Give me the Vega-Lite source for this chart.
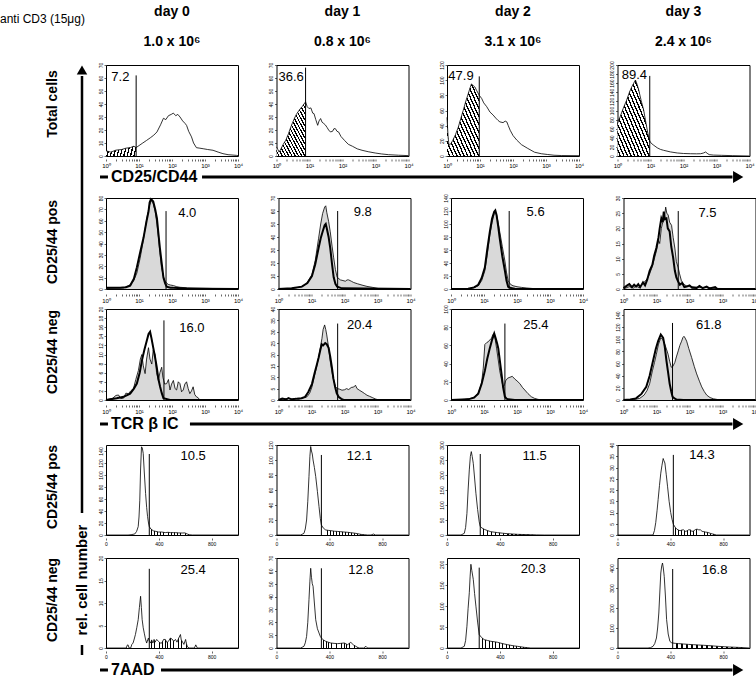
{
"$schema":"https://vega.github.io/schema/vega-lite/v6.json",
"background":"white",
"padding":{"left":0,"top":5,"right":0,"bottom":0},
"config":{"view":{"stroke":"black","strokeWidth":1},"font":"Liberation Sans","axis":{"domain":false,"grid":false,"tickSize":2,"tickColor":"black","tickWidth":0.6,"labelColor":"black","labelFontSize":6,"labelPadding":1,"labelFont":"Liberation Sans","labelOverlap":false,"labelSeparation":0}},
"datasets":{"h":[
{"r":1,"d":0,"k":"m","x":1,"y":4,"h":1},{"r":1,"d":0,"k":"m","x":1.4,"y":3,"h":1},{"r":1,"d":0,"k":"m","x":2,"y":4.5,"h":1},{"r":1,"d":0,"k":"m","x":3,"y":5,"h":1},{"r":1,"d":0,"k":"m","x":4,"y":6,"h":1},{"r":1,"d":0,"k":"m","x":5.5,"y":6.5,"h":1},{"r":1,"d":0,"k":"m","x":7,"y":7.5,"h":1},{"r":1,"d":0,"k":"m","x":8.2,"y":6.5,"h":1},
{"r":1,"d":0,"k":"m","x":10,"y":8},{"r":1,"d":0,"k":"m","x":13,"y":10},{"r":1,"d":0,"k":"m","x":17,"y":12},{"r":1,"d":0,"k":"m","x":22,"y":14},{"r":1,"d":0,"k":"m","x":28,"y":16},{"r":1,"d":0,"k":"m","x":35,"y":18.5},{"r":1,"d":0,"k":"m","x":45,"y":24},{"r":1,"d":0,"k":"m","x":55,"y":29},{"r":1,"d":0,"k":"m","x":65,"y":28},{"r":1,"d":0,"k":"m","x":78,"y":31},{"r":1,"d":0,"k":"m","x":95,"y":32},{"r":1,"d":0,"k":"m","x":110,"y":33},{"r":1,"d":0,"k":"m","x":130,"y":31},{"r":1,"d":0,"k":"m","x":150,"y":32},{"r":1,"d":0,"k":"m","x":175,"y":30},{"r":1,"d":0,"k":"m","x":210,"y":27},{"r":1,"d":0,"k":"m","x":250,"y":25},{"r":1,"d":0,"k":"m","x":277,"y":23.5},{"r":1,"d":0,"k":"m","x":320,"y":19},{"r":1,"d":0,"k":"m","x":390,"y":14.7},{"r":1,"d":0,"k":"m","x":450,"y":10},{"r":1,"d":0,"k":"m","x":550,"y":6.4},{"r":1,"d":0,"k":"m","x":700,"y":6},{"r":1,"d":0,"k":"m","x":880,"y":5.6},{"r":1,"d":0,"k":"m","x":1200,"y":5},{"r":1,"d":0,"k":"m","x":1750,"y":4.4},{"r":1,"d":0,"k":"m","x":2500,"y":3},{"r":1,"d":0,"k":"m","x":3500,"y":1.8},{"r":1,"d":0,"k":"m","x":5000,"y":1},{"r":1,"d":0,"k":"m","x":8900,"y":0.5},{"r":1,"d":0,"k":"m","x":10000,"y":0.3},
{"r":1,"d":0,"k":"q","x":8.2,"y":62},{"r":1,"d":0,"k":"l","x":1.45,"y":61,"t":"7.2"},{"r":1,"d":0,"k":"z","y":70},
{"r":1,"d":1,"k":"m","x":1,"y":7,"h":1},{"r":1,"d":1,"k":"m","x":1.1,"y":5,"h":1},{"r":1,"d":1,"k":"m","x":1.2,"y":3,"h":1},{"r":1,"d":1,"k":"m","x":1.4,"y":6,"h":1},{"r":1,"d":1,"k":"m","x":1.6,"y":9,"h":1},{"r":1,"d":1,"k":"m","x":1.9,"y":12,"h":1},{"r":1,"d":1,"k":"m","x":2.3,"y":17,"h":1},{"r":1,"d":1,"k":"m","x":2.6,"y":21,"h":1},{"r":1,"d":1,"k":"m","x":3,"y":25,"h":1},{"r":1,"d":1,"k":"m","x":3.5,"y":29,"h":1},{"r":1,"d":1,"k":"m","x":4,"y":32,"h":1},{"r":1,"d":1,"k":"m","x":4.8,"y":35,"h":1},{"r":1,"d":1,"k":"m","x":5.5,"y":37,"h":1},{"r":1,"d":1,"k":"m","x":6,"y":38,"h":1},{"r":1,"d":1,"k":"m","x":6.8,"y":40,"h":1},{"r":1,"d":1,"k":"m","x":7.6,"y":41.6,"h":1},
{"r":1,"d":1,"k":"m","x":8.5,"y":38},{"r":1,"d":1,"k":"m","x":9.6,"y":36.5},{"r":1,"d":1,"k":"m","x":11,"y":37},{"r":1,"d":1,"k":"m","x":12.5,"y":33},{"r":1,"d":1,"k":"m","x":13.7,"y":32.6},{"r":1,"d":1,"k":"m","x":15.5,"y":28},{"r":1,"d":1,"k":"m","x":17.7,"y":23.6},{"r":1,"d":1,"k":"m","x":19.5,"y":27},{"r":1,"d":1,"k":"m","x":21.7,"y":28.8},{"r":1,"d":1,"k":"m","x":24,"y":26},{"r":1,"d":1,"k":"m","x":27,"y":25},{"r":1,"d":1,"k":"m","x":30,"y":24},{"r":1,"d":1,"k":"m","x":34,"y":22},{"r":1,"d":1,"k":"m","x":38,"y":20},{"r":1,"d":1,"k":"m","x":43,"y":18.5},{"r":1,"d":1,"k":"m","x":50,"y":19},{"r":1,"d":1,"k":"m","x":55,"y":21},{"r":1,"d":1,"k":"m","x":61,"y":21},{"r":1,"d":1,"k":"m","x":68,"y":19},{"r":1,"d":1,"k":"m","x":76,"y":18.5},{"r":1,"d":1,"k":"m","x":90,"y":15},{"r":1,"d":1,"k":"m","x":115,"y":12},{"r":1,"d":1,"k":"m","x":150,"y":9},{"r":1,"d":1,"k":"m","x":200,"y":7.5},{"r":1,"d":1,"k":"m","x":280,"y":5.5},{"r":1,"d":1,"k":"m","x":390,"y":4.4},{"r":1,"d":1,"k":"m","x":600,"y":3.3},{"r":1,"d":1,"k":"m","x":980,"y":2.3},{"r":1,"d":1,"k":"m","x":1500,"y":1.6},{"r":1,"d":1,"k":"m","x":2500,"y":1},{"r":1,"d":1,"k":"m","x":5000,"y":0.6},{"r":1,"d":1,"k":"m","x":10000,"y":0.3},
{"r":1,"d":1,"k":"q","x":7.6,"y":68},{"r":1,"d":1,"k":"l","x":1.15,"y":61,"t":"36.6"},{"r":1,"d":1,"k":"z","y":70},
{"r":1,"d":2,"k":"m","x":1,"y":51,"h":1},{"r":1,"d":2,"k":"m","x":1.08,"y":25,"h":1},{"r":1,"d":2,"k":"m","x":1.15,"y":14,"h":1},{"r":1,"d":2,"k":"m","x":1.3,"y":16,"h":1},{"r":1,"d":2,"k":"m","x":1.5,"y":20.7,"h":1},{"r":1,"d":2,"k":"m","x":1.8,"y":28,"h":1},{"r":1,"d":2,"k":"m","x":2.2,"y":38,"h":1},{"r":1,"d":2,"k":"m","x":2.6,"y":49,"h":1},{"r":1,"d":2,"k":"m","x":3.1,"y":60,"h":1},{"r":1,"d":2,"k":"m","x":3.7,"y":72,"h":1},{"r":1,"d":2,"k":"m","x":4.4,"y":82,"h":1},{"r":1,"d":2,"k":"m","x":5,"y":90,"h":1},{"r":1,"d":2,"k":"m","x":5.5,"y":95,"h":1},{"r":1,"d":2,"k":"m","x":6.2,"y":93,"h":1},{"r":1,"d":2,"k":"m","x":7,"y":91,"h":1},{"r":1,"d":2,"k":"m","x":8,"y":86,"h":1},{"r":1,"d":2,"k":"m","x":9.5,"y":80,"h":1},
{"r":1,"d":2,"k":"m","x":11.2,"y":76},{"r":1,"d":2,"k":"m","x":13,"y":70},{"r":1,"d":2,"k":"m","x":16,"y":65},{"r":1,"d":2,"k":"m","x":20,"y":58},{"r":1,"d":2,"k":"m","x":25,"y":54},{"r":1,"d":2,"k":"m","x":30,"y":50},{"r":1,"d":2,"k":"m","x":35,"y":47},{"r":1,"d":2,"k":"m","x":40,"y":45},{"r":1,"d":2,"k":"m","x":50,"y":44},{"r":1,"d":2,"k":"m","x":58,"y":46},{"r":1,"d":2,"k":"m","x":65,"y":45},{"r":1,"d":2,"k":"m","x":72,"y":40},{"r":1,"d":2,"k":"m","x":82,"y":34},{"r":1,"d":2,"k":"m","x":100,"y":27},{"r":1,"d":2,"k":"m","x":130,"y":21},{"r":1,"d":2,"k":"m","x":180,"y":15},{"r":1,"d":2,"k":"m","x":280,"y":10},{"r":1,"d":2,"k":"m","x":450,"y":5},{"r":1,"d":2,"k":"m","x":720,"y":3},{"r":1,"d":2,"k":"m","x":1100,"y":2},{"r":1,"d":2,"k":"m","x":1750,"y":1},{"r":1,"d":2,"k":"m","x":3000,"y":0.6},{"r":1,"d":2,"k":"m","x":10000,"y":0.4},
{"r":1,"d":2,"k":"q","x":9.5,"y":105},{"r":1,"d":2,"k":"l","x":1.1,"y":106,"t":"47.9"},{"r":1,"d":2,"k":"z","y":120},
{"r":1,"d":3,"k":"m","x":1,"y":71,"h":1},{"r":1,"d":3,"k":"m","x":1.1,"y":80,"h":1},{"r":1,"d":3,"k":"m","x":1.2,"y":86,"h":1},{"r":1,"d":3,"k":"m","x":1.5,"y":105,"h":1},{"r":1,"d":3,"k":"m","x":1.9,"y":123,"h":1},{"r":1,"d":3,"k":"m","x":2.3,"y":140,"h":1},{"r":1,"d":3,"k":"m","x":2.7,"y":152,"h":1},{"r":1,"d":3,"k":"m","x":3.1,"y":160,"h":1},{"r":1,"d":3,"k":"m","x":3.5,"y":167,"h":1},{"r":1,"d":3,"k":"m","x":3.9,"y":158,"h":1},{"r":1,"d":3,"k":"m","x":4.4,"y":145,"h":1},{"r":1,"d":3,"k":"m","x":5.2,"y":122,"h":1},{"r":1,"d":3,"k":"m","x":6.2,"y":101,"h":1},{"r":1,"d":3,"k":"m","x":7.3,"y":72,"h":1},{"r":1,"d":3,"k":"m","x":8.3,"y":50,"h":1},{"r":1,"d":3,"k":"m","x":9.5,"y":33,"h":1},
{"r":1,"d":3,"k":"m","x":10.5,"y":28},{"r":1,"d":3,"k":"m","x":12.6,"y":23.5},{"r":1,"d":3,"k":"m","x":16,"y":18},{"r":1,"d":3,"k":"m","x":20,"y":14.5},{"r":1,"d":3,"k":"m","x":25,"y":12.5},{"r":1,"d":3,"k":"m","x":40,"y":9},{"r":1,"d":3,"k":"m","x":65,"y":6.6},{"r":1,"d":3,"k":"m","x":100,"y":5.5},{"r":1,"d":3,"k":"m","x":165,"y":5},{"r":1,"d":3,"k":"m","x":250,"y":4.8},{"r":1,"d":3,"k":"m","x":330,"y":5},{"r":1,"d":3,"k":"m","x":400,"y":6.5},{"r":1,"d":3,"k":"m","x":470,"y":8.8},{"r":1,"d":3,"k":"m","x":520,"y":6},{"r":1,"d":3,"k":"m","x":600,"y":3},{"r":1,"d":3,"k":"m","x":800,"y":2},{"r":1,"d":3,"k":"m","x":1400,"y":1.5},{"r":1,"d":3,"k":"m","x":3000,"y":0.8},{"r":1,"d":3,"k":"m","x":10000,"y":0},
{"r":1,"d":3,"k":"q","x":9.5,"y":176},{"r":1,"d":3,"k":"l","x":1.35,"y":178,"t":"89.4"},{"r":1,"d":3,"k":"z","y":200},

{"r":2,"d":0,"k":"g","x":1,"y":0.5},{"r":2,"d":0,"k":"g","x":2,"y":0.8},{"r":2,"d":0,"k":"g","x":3.4,"y":1},{"r":2,"d":0,"k":"g","x":5,"y":3},{"r":2,"d":0,"k":"g","x":6.8,"y":7},{"r":2,"d":0,"k":"g","x":8.6,"y":14},{"r":2,"d":0,"k":"g","x":10.8,"y":27},{"r":2,"d":0,"k":"g","x":13,"y":40},{"r":2,"d":0,"k":"g","x":15.3,"y":53},{"r":2,"d":0,"k":"g","x":18,"y":65},{"r":2,"d":0,"k":"g","x":20.7,"y":73.5},{"r":2,"d":0,"k":"g","x":24,"y":78},{"r":2,"d":0,"k":"g","x":27,"y":75},{"r":2,"d":0,"k":"g","x":31,"y":68},{"r":2,"d":0,"k":"g","x":35,"y":57},{"r":2,"d":0,"k":"g","x":39,"y":45},{"r":2,"d":0,"k":"g","x":43,"y":32},{"r":2,"d":0,"k":"g","x":48,"y":19},{"r":2,"d":0,"k":"g","x":55,"y":11},{"r":2,"d":0,"k":"g","x":61,"y":7},{"r":2,"d":0,"k":"g","x":70,"y":5},{"r":2,"d":0,"k":"g","x":77,"y":4},{"r":2,"d":0,"k":"g","x":90,"y":3.5},{"r":2,"d":0,"k":"g","x":110,"y":3},{"r":2,"d":0,"k":"g","x":140,"y":2},{"r":2,"d":0,"k":"g","x":175,"y":1.5},{"r":2,"d":0,"k":"g","x":300,"y":1},{"r":2,"d":0,"k":"g","x":880,"y":0.6},{"r":2,"d":0,"k":"g","x":10000,"y":0},
{"r":2,"d":0,"k":"t","x":1,"y":1},{"r":2,"d":0,"k":"t","x":2.7,"y":1},{"r":2,"d":0,"k":"t","x":4,"y":1.5},{"r":2,"d":0,"k":"t","x":5.4,"y":3},{"r":2,"d":0,"k":"t","x":7,"y":9},{"r":2,"d":0,"k":"t","x":8.6,"y":19},{"r":2,"d":0,"k":"t","x":11,"y":33},{"r":2,"d":0,"k":"t","x":13.7,"y":45},{"r":2,"d":0,"k":"t","x":17,"y":60},{"r":2,"d":0,"k":"t","x":19.4,"y":68},{"r":2,"d":0,"k":"t","x":21,"y":76},{"r":2,"d":0,"k":"t","x":23,"y":79},{"r":2,"d":0,"k":"t","x":25,"y":78},{"r":2,"d":0,"k":"t","x":27,"y":77},{"r":2,"d":0,"k":"t","x":31,"y":70},{"r":2,"d":0,"k":"t","x":35,"y":62},{"r":2,"d":0,"k":"t","x":39,"y":48},{"r":2,"d":0,"k":"t","x":43,"y":36},{"r":2,"d":0,"k":"t","x":49,"y":22},{"r":2,"d":0,"k":"t","x":55,"y":10},{"r":2,"d":0,"k":"t","x":62,"y":5},{"r":2,"d":0,"k":"t","x":69,"y":2},{"r":2,"d":0,"k":"t","x":90,"y":1.2},{"r":2,"d":0,"k":"t","x":110,"y":1},{"r":2,"d":0,"k":"t","x":275,"y":0.5},{"r":2,"d":0,"k":"t","x":880,"y":0.3},{"r":2,"d":0,"k":"t","x":10000,"y":0},
{"r":2,"d":0,"k":"q","x":66,"y":68.5},{"r":2,"d":0,"k":"l","x":155,"y":67,"t":"4.0"},{"r":2,"d":0,"k":"z","y":80},
{"r":2,"d":1,"k":"g","x":1,"y":0},{"r":2,"d":1,"k":"g","x":2.5,"y":0.3},{"r":2,"d":1,"k":"g","x":3.5,"y":1},{"r":2,"d":1,"k":"g","x":5.1,"y":1.8},{"r":2,"d":1,"k":"g","x":7,"y":4},{"r":2,"d":1,"k":"g","x":10.3,"y":11},{"r":2,"d":1,"k":"g","x":13,"y":22},{"r":2,"d":1,"k":"g","x":16.4,"y":39},{"r":2,"d":1,"k":"g","x":19,"y":50},{"r":2,"d":1,"k":"g","x":21.7,"y":58},{"r":2,"d":1,"k":"g","x":25,"y":63},{"r":2,"d":1,"k":"g","x":27,"y":64},{"r":2,"d":1,"k":"g","x":29,"y":59},{"r":2,"d":1,"k":"g","x":33,"y":52},{"r":2,"d":1,"k":"g","x":37,"y":44},{"r":2,"d":1,"k":"g","x":42,"y":33},{"r":2,"d":1,"k":"g","x":47,"y":24},{"r":2,"d":1,"k":"g","x":53,"y":15},{"r":2,"d":1,"k":"g","x":60,"y":9},{"r":2,"d":1,"k":"g","x":75,"y":7},{"r":2,"d":1,"k":"g","x":90,"y":6.5},{"r":2,"d":1,"k":"g","x":106,"y":6},{"r":2,"d":1,"k":"g","x":120,"y":7},{"r":2,"d":1,"k":"g","x":134,"y":7},{"r":2,"d":1,"k":"g","x":160,"y":6},{"r":2,"d":1,"k":"g","x":190,"y":5},{"r":2,"d":1,"k":"g","x":250,"y":4},{"r":2,"d":1,"k":"g","x":340,"y":3},{"r":2,"d":1,"k":"g","x":480,"y":2},{"r":2,"d":1,"k":"g","x":690,"y":1.3},{"r":2,"d":1,"k":"g","x":1090,"y":0.3},{"r":2,"d":1,"k":"g","x":10000,"y":0},
{"r":2,"d":1,"k":"t","x":1,"y":0},{"r":2,"d":1,"k":"t","x":2.5,"y":0.5},{"r":2,"d":1,"k":"t","x":5.1,"y":1.8},{"r":2,"d":1,"k":"t","x":7.5,"y":4.5},{"r":2,"d":1,"k":"t","x":10.3,"y":10},{"r":2,"d":1,"k":"t","x":13,"y":19},{"r":2,"d":1,"k":"t","x":16.4,"y":31.5},{"r":2,"d":1,"k":"t","x":19,"y":39},{"r":2,"d":1,"k":"t","x":21.7,"y":44},{"r":2,"d":1,"k":"t","x":25,"y":49},{"r":2,"d":1,"k":"t","x":27,"y":50},{"r":2,"d":1,"k":"t","x":29,"y":46.7},{"r":2,"d":1,"k":"t","x":33,"y":40},{"r":2,"d":1,"k":"t","x":37,"y":31.5},{"r":2,"d":1,"k":"t","x":42,"y":19},{"r":2,"d":1,"k":"t","x":47,"y":9},{"r":2,"d":1,"k":"t","x":53,"y":4},{"r":2,"d":1,"k":"t","x":60,"y":1.8},{"r":2,"d":1,"k":"t","x":84,"y":0.5},{"r":2,"d":1,"k":"t","x":10000,"y":0},
{"r":2,"d":1,"k":"q","x":62,"y":60},{"r":2,"d":1,"k":"l","x":190,"y":59,"t":"9.8"},{"r":2,"d":1,"k":"z","y":70},
{"r":2,"d":2,"k":"g","x":1,"y":0},{"r":2,"d":2,"k":"g","x":3.3,"y":0.5},{"r":2,"d":2,"k":"g","x":5,"y":2},{"r":2,"d":2,"k":"g","x":6.7,"y":5},{"r":2,"d":2,"k":"g","x":8.5,"y":13},{"r":2,"d":2,"k":"g","x":10.6,"y":28},{"r":2,"d":2,"k":"g","x":12.5,"y":52},{"r":2,"d":2,"k":"g","x":15,"y":83},{"r":2,"d":2,"k":"g","x":17.5,"y":102},{"r":2,"d":2,"k":"g","x":20.4,"y":116},{"r":2,"d":2,"k":"g","x":22,"y":118},{"r":2,"d":2,"k":"g","x":24,"y":114},{"r":2,"d":2,"k":"g","x":27,"y":102},{"r":2,"d":2,"k":"g","x":30,"y":88},{"r":2,"d":2,"k":"g","x":36,"y":65},{"r":2,"d":2,"k":"g","x":43,"y":43},{"r":2,"d":2,"k":"g","x":48,"y":26},{"r":2,"d":2,"k":"g","x":54,"y":12.6},{"r":2,"d":2,"k":"g","x":64,"y":7},{"r":2,"d":2,"k":"g","x":76,"y":5},{"r":2,"d":2,"k":"g","x":100,"y":3.5},{"r":2,"d":2,"k":"g","x":136,"y":2.5},{"r":2,"d":2,"k":"g","x":200,"y":1.5},{"r":2,"d":2,"k":"g","x":345,"y":0.5},{"r":2,"d":2,"k":"g","x":10000,"y":0},
{"r":2,"d":2,"k":"t","x":1,"y":0},{"r":2,"d":2,"k":"t","x":3.3,"y":0.5},{"r":2,"d":2,"k":"t","x":5,"y":2.5},{"r":2,"d":2,"k":"t","x":6.7,"y":6.5},{"r":2,"d":2,"k":"t","x":8.5,"y":17},{"r":2,"d":2,"k":"t","x":10.6,"y":33},{"r":2,"d":2,"k":"t","x":12.5,"y":60},{"r":2,"d":2,"k":"t","x":15,"y":88},{"r":2,"d":2,"k":"t","x":17.5,"y":108},{"r":2,"d":2,"k":"t","x":20.4,"y":119},{"r":2,"d":2,"k":"t","x":22,"y":121},{"r":2,"d":2,"k":"t","x":24,"y":114},{"r":2,"d":2,"k":"t","x":27,"y":96},{"r":2,"d":2,"k":"t","x":30,"y":78},{"r":2,"d":2,"k":"t","x":36,"y":50},{"r":2,"d":2,"k":"t","x":43,"y":28},{"r":2,"d":2,"k":"t","x":48,"y":13},{"r":2,"d":2,"k":"t","x":54,"y":3.5},{"r":2,"d":2,"k":"t","x":65,"y":1.5},{"r":2,"d":2,"k":"t","x":86,"y":0.5},{"r":2,"d":2,"k":"t","x":10000,"y":0},
{"r":2,"d":2,"k":"q","x":58,"y":120},{"r":2,"d":2,"k":"l","x":195,"y":118,"t":"5.6"},{"r":2,"d":2,"k":"z","y":140},
{"r":2,"d":3,"k":"g","x":1,"y":0},{"r":2,"d":3,"k":"g","x":1.5,"y":0.8},{"r":2,"d":3,"k":"g","x":2,"y":0.3},{"r":2,"d":3,"k":"g","x":2.4,"y":1},{"r":2,"d":3,"k":"g","x":3,"y":0.4},{"r":2,"d":3,"k":"g","x":3.6,"y":1.5},{"r":2,"d":3,"k":"g","x":4.5,"y":2.5},{"r":2,"d":3,"k":"g","x":5.3,"y":3.5},{"r":2,"d":3,"k":"g","x":6.2,"y":5},{"r":2,"d":3,"k":"g","x":7.5,"y":7.5},{"r":2,"d":3,"k":"g","x":9.9,"y":12.5},{"r":2,"d":3,"k":"g","x":11.5,"y":16},{"r":2,"d":3,"k":"g","x":12.5,"y":15},{"r":2,"d":3,"k":"g","x":14,"y":20},{"r":2,"d":3,"k":"g","x":15.5,"y":22},{"r":2,"d":3,"k":"g","x":16.5,"y":25},{"r":2,"d":3,"k":"g","x":17.5,"y":24},{"r":2,"d":3,"k":"g","x":19,"y":27},{"r":2,"d":3,"k":"g","x":20.5,"y":25},{"r":2,"d":3,"k":"g","x":22.6,"y":24.4},{"r":2,"d":3,"k":"g","x":25,"y":22},{"r":2,"d":3,"k":"g","x":28.6,"y":21},{"r":2,"d":3,"k":"g","x":32,"y":17},{"r":2,"d":3,"k":"g","x":36,"y":13.5},{"r":2,"d":3,"k":"g","x":40,"y":9},{"r":2,"d":3,"k":"g","x":45.6,"y":7},{"r":2,"d":3,"k":"g","x":50,"y":5},{"r":2,"d":3,"k":"g","x":57,"y":2.7},{"r":2,"d":3,"k":"g","x":68,"y":1.5},{"r":2,"d":3,"k":"g","x":82,"y":1},{"r":2,"d":3,"k":"g","x":120,"y":0.8},{"r":2,"d":3,"k":"g","x":200,"y":0.5},{"r":2,"d":3,"k":"g","x":330,"y":0.5},{"r":2,"d":3,"k":"g","x":600,"y":0.2},{"r":2,"d":3,"k":"g","x":10000,"y":0},
{"r":2,"d":3,"k":"t","x":1,"y":0.3},{"r":2,"d":3,"k":"t","x":1.3,"y":1.2},{"r":2,"d":3,"k":"t","x":1.5,"y":1.6},{"r":2,"d":3,"k":"t","x":1.8,"y":0.6},{"r":2,"d":3,"k":"t","x":2.1,"y":1.4},{"r":2,"d":3,"k":"t","x":2.4,"y":0.8},{"r":2,"d":3,"k":"t","x":2.8,"y":1.6},{"r":2,"d":3,"k":"t","x":3.2,"y":0.6},{"r":2,"d":3,"k":"t","x":3.9,"y":2.2},{"r":2,"d":3,"k":"t","x":4.5,"y":1.2},{"r":2,"d":3,"k":"t","x":5.2,"y":3},{"r":2,"d":3,"k":"t","x":6.2,"y":6},{"r":2,"d":3,"k":"t","x":7.5,"y":8},{"r":2,"d":3,"k":"t","x":8.5,"y":11},{"r":2,"d":3,"k":"t","x":9.9,"y":13.5},{"r":2,"d":3,"k":"t","x":11.5,"y":17},{"r":2,"d":3,"k":"t","x":12.5,"y":20},{"r":2,"d":3,"k":"t","x":14,"y":23.3},{"r":2,"d":3,"k":"t","x":15.5,"y":22},{"r":2,"d":3,"k":"t","x":16.6,"y":25.5},{"r":2,"d":3,"k":"t","x":18,"y":23},{"r":2,"d":3,"k":"t","x":20,"y":23.3},{"r":2,"d":3,"k":"t","x":22,"y":20},{"r":2,"d":3,"k":"t","x":25,"y":19},{"r":2,"d":3,"k":"t","x":28,"y":14},{"r":2,"d":3,"k":"t","x":32,"y":10.3},{"r":2,"d":3,"k":"t","x":36,"y":6},{"r":2,"d":3,"k":"t","x":40,"y":3.8},{"r":2,"d":3,"k":"t","x":45,"y":2.5},{"r":2,"d":3,"k":"t","x":51,"y":1.4},{"r":2,"d":3,"k":"t","x":60,"y":2},{"r":2,"d":3,"k":"t","x":70,"y":0.6},{"r":2,"d":3,"k":"t","x":82,"y":0.8},{"r":2,"d":3,"k":"t","x":100,"y":1.2},{"r":2,"d":3,"k":"t","x":120,"y":0.4},{"r":2,"d":3,"k":"t","x":165,"y":0.3},{"r":2,"d":3,"k":"t","x":200,"y":1},{"r":2,"d":3,"k":"t","x":250,"y":0.3},{"r":2,"d":3,"k":"t","x":330,"y":0.8},{"r":2,"d":3,"k":"t","x":400,"y":0.2},{"r":2,"d":3,"k":"t","x":600,"y":0.6},{"r":2,"d":3,"k":"t","x":700,"y":0},{"r":2,"d":3,"k":"t","x":10000,"y":0},
{"r":2,"d":3,"k":"q","x":45.6,"y":25.7},{"r":2,"d":3,"k":"l","x":186,"y":25.2,"t":"7.5"},{"r":2,"d":3,"k":"z","y":30},

{"r":3,"d":0,"k":"g","x":1,"y":0},{"r":3,"d":0,"k":"g","x":1.6,"y":0.4},{"r":3,"d":0,"k":"g","x":2,"y":1},{"r":3,"d":0,"k":"g","x":2.4,"y":1.1},{"r":3,"d":0,"k":"g","x":2.8,"y":0.3},{"r":3,"d":0,"k":"g","x":3.4,"y":0.4},{"r":3,"d":0,"k":"g","x":4,"y":1.5},{"r":3,"d":0,"k":"g","x":4.8,"y":1.4},{"r":3,"d":0,"k":"g","x":5.6,"y":2},{"r":3,"d":0,"k":"g","x":6.8,"y":2.5},{"r":3,"d":0,"k":"g","x":8,"y":4.5},{"r":3,"d":0,"k":"g","x":9.6,"y":6.5},{"r":3,"d":0,"k":"g","x":11,"y":9},{"r":3,"d":0,"k":"g","x":12.2,"y":10},{"r":3,"d":0,"k":"g","x":13.5,"y":7.5},{"r":3,"d":0,"k":"g","x":15.3,"y":5.8},{"r":3,"d":0,"k":"g","x":17,"y":9},{"r":3,"d":0,"k":"g","x":19.4,"y":11.5},{"r":3,"d":0,"k":"g","x":21.5,"y":9},{"r":3,"d":0,"k":"g","x":24.4,"y":7.9},{"r":3,"d":0,"k":"g","x":27,"y":11},{"r":3,"d":0,"k":"g","x":30.7,"y":10},{"r":3,"d":0,"k":"g","x":34,"y":6},{"r":3,"d":0,"k":"g","x":38.7,"y":4.3},{"r":3,"d":0,"k":"g","x":43,"y":6},{"r":3,"d":0,"k":"g","x":48.7,"y":7.2},{"r":3,"d":0,"k":"g","x":53,"y":5},{"r":3,"d":0,"k":"g","x":60,"y":3.5},{"r":3,"d":0,"k":"g","x":69,"y":3.6},{"r":3,"d":0,"k":"g","x":78,"y":4.5},{"r":3,"d":0,"k":"g","x":87,"y":2.2},{"r":3,"d":0,"k":"g","x":97,"y":3.5},{"r":3,"d":0,"k":"g","x":110,"y":4.3},{"r":3,"d":0,"k":"g","x":124,"y":2.5},{"r":3,"d":0,"k":"g","x":138,"y":2.2},{"r":3,"d":0,"k":"g","x":155,"y":4},{"r":3,"d":0,"k":"g","x":174,"y":3.6},{"r":3,"d":0,"k":"g","x":195,"y":1.8},{"r":3,"d":0,"k":"g","x":219,"y":2.2},{"r":3,"d":0,"k":"g","x":245,"y":3.5},{"r":3,"d":0,"k":"g","x":276,"y":4},{"r":3,"d":0,"k":"g","x":310,"y":2.5},{"r":3,"d":0,"k":"g","x":347,"y":1.4},{"r":3,"d":0,"k":"g","x":390,"y":2},{"r":3,"d":0,"k":"g","x":437,"y":2.9},{"r":3,"d":0,"k":"g","x":490,"y":1.2},{"r":3,"d":0,"k":"g","x":550,"y":0.7},{"r":3,"d":0,"k":"g","x":620,"y":0.5},{"r":3,"d":0,"k":"g","x":693,"y":0},{"r":3,"d":0,"k":"g","x":10000,"y":0},
{"r":3,"d":0,"k":"t","x":1,"y":0},{"r":3,"d":0,"k":"t","x":2.1,"y":0.4},{"r":3,"d":0,"k":"t","x":3.4,"y":0.7},{"r":3,"d":0,"k":"t","x":5.4,"y":1.4},{"r":3,"d":0,"k":"t","x":7,"y":2.5},{"r":3,"d":0,"k":"t","x":8.6,"y":3.6},{"r":3,"d":0,"k":"t","x":10.5,"y":6},{"r":3,"d":0,"k":"t","x":12.2,"y":8.6},{"r":3,"d":0,"k":"t","x":14.5,"y":11},{"r":3,"d":0,"k":"t","x":17.2,"y":13},{"r":3,"d":0,"k":"t","x":19.5,"y":14.5},{"r":3,"d":0,"k":"t","x":21.7,"y":15},{"r":3,"d":0,"k":"t","x":24,"y":13.5},{"r":3,"d":0,"k":"t","x":27,"y":11.5},{"r":3,"d":0,"k":"t","x":30.5,"y":9.5},{"r":3,"d":0,"k":"t","x":34.5,"y":7.2},{"r":3,"d":0,"k":"t","x":39,"y":4.5},{"r":3,"d":0,"k":"t","x":43.6,"y":2.9},{"r":3,"d":0,"k":"t","x":49,"y":1.5},{"r":3,"d":0,"k":"t","x":55,"y":0.4},{"r":3,"d":0,"k":"t","x":87,"y":0},{"r":3,"d":0,"k":"t","x":10000,"y":0},
{"r":3,"d":0,"k":"q","x":57,"y":17.5},{"r":3,"d":0,"k":"l","x":166,"y":15.8,"t":"16.0"},{"r":3,"d":0,"k":"z","y":20},
{"r":3,"d":1,"k":"g","x":1,"y":0},{"r":3,"d":1,"k":"g","x":1.5,"y":0.5},{"r":3,"d":1,"k":"g","x":2,"y":0.7},{"r":3,"d":1,"k":"g","x":2.7,"y":0.2},{"r":3,"d":1,"k":"g","x":3.2,"y":0.8},{"r":3,"d":1,"k":"g","x":4,"y":0.3},{"r":3,"d":1,"k":"g","x":5.5,"y":1},{"r":3,"d":1,"k":"g","x":7.3,"y":1.4},{"r":3,"d":1,"k":"g","x":8.8,"y":3},{"r":3,"d":1,"k":"g","x":10.3,"y":5.7},{"r":3,"d":1,"k":"g","x":12.5,"y":11},{"r":3,"d":1,"k":"g","x":14.5,"y":15},{"r":3,"d":1,"k":"g","x":16.4,"y":18.6},{"r":3,"d":1,"k":"g","x":18.5,"y":23},{"r":3,"d":1,"k":"g","x":20.7,"y":27},{"r":3,"d":1,"k":"g","x":22.5,"y":31},{"r":3,"d":1,"k":"g","x":25,"y":33},{"r":3,"d":1,"k":"g","x":27,"y":31},{"r":3,"d":1,"k":"g","x":29,"y":28.6},{"r":3,"d":1,"k":"g","x":33,"y":23},{"r":3,"d":1,"k":"g","x":37,"y":17},{"r":3,"d":1,"k":"g","x":42,"y":12},{"r":3,"d":1,"k":"g","x":47,"y":8.6},{"r":3,"d":1,"k":"g","x":53,"y":6},{"r":3,"d":1,"k":"g","x":60,"y":5},{"r":3,"d":1,"k":"g","x":70,"y":4.8},{"r":3,"d":1,"k":"g","x":84,"y":4.3},{"r":3,"d":1,"k":"g","x":100,"y":4.5},{"r":3,"d":1,"k":"g","x":115,"y":5},{"r":3,"d":1,"k":"g","x":134,"y":4.6},{"r":3,"d":1,"k":"g","x":160,"y":5.5},{"r":3,"d":1,"k":"g","x":190,"y":5.7},{"r":3,"d":1,"k":"g","x":215,"y":6.5},{"r":3,"d":1,"k":"g","x":240,"y":5},{"r":3,"d":1,"k":"g","x":290,"y":4.2},{"r":3,"d":1,"k":"g","x":340,"y":3.6},{"r":3,"d":1,"k":"g","x":410,"y":2.8},{"r":3,"d":1,"k":"g","x":480,"y":2.1},{"r":3,"d":1,"k":"g","x":580,"y":1.6},{"r":3,"d":1,"k":"g","x":690,"y":1.1},{"r":3,"d":1,"k":"g","x":850,"y":0.5},{"r":3,"d":1,"k":"g","x":1090,"y":0},{"r":3,"d":1,"k":"g","x":10000,"y":0},
{"r":3,"d":1,"k":"t","x":1,"y":0},{"r":3,"d":1,"k":"t","x":1.3,"y":0.6},{"r":3,"d":1,"k":"t","x":1.7,"y":0.2},{"r":3,"d":1,"k":"t","x":2,"y":0.8},{"r":3,"d":1,"k":"t","x":2.5,"y":0.3},{"r":3,"d":1,"k":"t","x":3.5,"y":0.5},{"r":3,"d":1,"k":"t","x":5,"y":0.8},{"r":3,"d":1,"k":"t","x":6.4,"y":1.4},{"r":3,"d":1,"k":"t","x":8,"y":3.5},{"r":3,"d":1,"k":"t","x":10.3,"y":7},{"r":3,"d":1,"k":"t","x":12.5,"y":12},{"r":3,"d":1,"k":"t","x":14.5,"y":15.5},{"r":3,"d":1,"k":"t","x":16.4,"y":18.6},{"r":3,"d":1,"k":"t","x":18.5,"y":22},{"r":3,"d":1,"k":"t","x":20.5,"y":24.5},{"r":3,"d":1,"k":"t","x":22.5,"y":24},{"r":3,"d":1,"k":"t","x":26,"y":25},{"r":3,"d":1,"k":"t","x":29,"y":24.5},{"r":3,"d":1,"k":"t","x":33,"y":22.9},{"r":3,"d":1,"k":"t","x":37,"y":19},{"r":3,"d":1,"k":"t","x":41.5,"y":14.3},{"r":3,"d":1,"k":"t","x":46,"y":9.5},{"r":3,"d":1,"k":"t","x":52,"y":5.7},{"r":3,"d":1,"k":"t","x":58,"y":3},{"r":3,"d":1,"k":"t","x":66,"y":1.4},{"r":3,"d":1,"k":"t","x":80,"y":0.5},{"r":3,"d":1,"k":"t","x":94,"y":0},{"r":3,"d":1,"k":"t","x":10000,"y":0},
{"r":3,"d":1,"k":"q","x":62,"y":33.6},{"r":3,"d":1,"k":"l","x":119,"y":32.9,"t":"20.4"},{"r":3,"d":1,"k":"z","y":40},
{"r":3,"d":2,"k":"g","x":1,"y":0},{"r":3,"d":2,"k":"g","x":2.6,"y":0.7},{"r":3,"d":2,"k":"g","x":4,"y":1.8},{"r":3,"d":2,"k":"g","x":5.3,"y":3.6},{"r":3,"d":2,"k":"g","x":6.8,"y":8},{"r":3,"d":2,"k":"g","x":8.4,"y":18},{"r":3,"d":2,"k":"g","x":9.5,"y":35},{"r":3,"d":2,"k":"g","x":10.6,"y":61},{"r":3,"d":2,"k":"g","x":12,"y":63},{"r":3,"d":2,"k":"g","x":13.4,"y":64},{"r":3,"d":2,"k":"g","x":15,"y":66},{"r":3,"d":2,"k":"g","x":17,"y":68},{"r":3,"d":2,"k":"g","x":18.5,"y":72},{"r":3,"d":2,"k":"g","x":20.4,"y":73},{"r":3,"d":2,"k":"g","x":22,"y":66},{"r":3,"d":2,"k":"g","x":24,"y":57},{"r":3,"d":2,"k":"g","x":27,"y":44},{"r":3,"d":2,"k":"g","x":30,"y":32},{"r":3,"d":2,"k":"g","x":34,"y":22},{"r":3,"d":2,"k":"g","x":38,"y":14},{"r":3,"d":2,"k":"g","x":42,"y":17},{"r":3,"d":2,"k":"g","x":45,"y":21},{"r":3,"d":2,"k":"g","x":52,"y":24},{"r":3,"d":2,"k":"g","x":61,"y":25},{"r":3,"d":2,"k":"g","x":72,"y":26},{"r":3,"d":2,"k":"g","x":86,"y":23},{"r":3,"d":2,"k":"g","x":100,"y":21},{"r":3,"d":2,"k":"g","x":122,"y":18},{"r":3,"d":2,"k":"g","x":145,"y":14},{"r":3,"d":2,"k":"g","x":172,"y":11},{"r":3,"d":2,"k":"g","x":215,"y":7},{"r":3,"d":2,"k":"g","x":272,"y":3.6},{"r":3,"d":2,"k":"g","x":340,"y":1.8},{"r":3,"d":2,"k":"g","x":434,"y":0.7},{"r":3,"d":2,"k":"g","x":600,"y":0},{"r":3,"d":2,"k":"g","x":10000,"y":0},
{"r":3,"d":2,"k":"t","x":1,"y":0},{"r":3,"d":2,"k":"t","x":3.3,"y":0.7},{"r":3,"d":2,"k":"t","x":5,"y":2.5},{"r":3,"d":2,"k":"t","x":6.7,"y":7},{"r":3,"d":2,"k":"t","x":8.5,"y":18},{"r":3,"d":2,"k":"t","x":10.6,"y":32},{"r":3,"d":2,"k":"t","x":12.5,"y":45},{"r":3,"d":2,"k":"t","x":15,"y":57},{"r":3,"d":2,"k":"t","x":17.5,"y":66},{"r":3,"d":2,"k":"t","x":20.4,"y":73},{"r":3,"d":2,"k":"t","x":22.5,"y":68},{"r":3,"d":2,"k":"t","x":25,"y":62},{"r":3,"d":2,"k":"t","x":27,"y":57},{"r":3,"d":2,"k":"t","x":30,"y":44},{"r":3,"d":2,"k":"t","x":34,"y":28.6},{"r":3,"d":2,"k":"t","x":38,"y":14},{"r":3,"d":2,"k":"t","x":43,"y":3.6},{"r":3,"d":2,"k":"t","x":48,"y":1.5},{"r":3,"d":2,"k":"t","x":54,"y":0.7},{"r":3,"d":2,"k":"t","x":86,"y":0},{"r":3,"d":2,"k":"t","x":10000,"y":0},
{"r":3,"d":2,"k":"q","x":43,"y":84},{"r":3,"d":2,"k":"l","x":154,"y":82,"t":"25.4"},{"r":3,"d":2,"k":"z","y":100},
{"r":3,"d":3,"k":"g","x":1,"y":0},{"r":3,"d":3,"k":"g","x":2,"y":0.5},{"r":3,"d":3,"k":"g","x":3.1,"y":2.7},{"r":3,"d":3,"k":"g","x":4.2,"y":8},{"r":3,"d":3,"k":"g","x":5.2,"y":16},{"r":3,"d":3,"k":"g","x":6.2,"y":27},{"r":3,"d":3,"k":"g","x":7.5,"y":48},{"r":3,"d":3,"k":"g","x":8.7,"y":62},{"r":3,"d":3,"k":"g","x":9.9,"y":75.5},{"r":3,"d":3,"k":"g","x":11.5,"y":92},{"r":3,"d":3,"k":"g","x":13.5,"y":102.5},{"r":3,"d":3,"k":"g","x":15.5,"y":100},{"r":3,"d":3,"k":"g","x":17.8,"y":92},{"r":3,"d":3,"k":"g","x":20,"y":84},{"r":3,"d":3,"k":"g","x":22.4,"y":75.5},{"r":3,"d":3,"k":"g","x":25,"y":64},{"r":3,"d":3,"k":"g","x":28,"y":54},{"r":3,"d":3,"k":"g","x":31,"y":55},{"r":3,"d":3,"k":"g","x":36,"y":62},{"r":3,"d":3,"k":"g","x":40,"y":71},{"r":3,"d":3,"k":"g","x":45.6,"y":81},{"r":3,"d":3,"k":"g","x":51,"y":90},{"r":3,"d":3,"k":"g","x":57.6,"y":97},{"r":3,"d":3,"k":"g","x":63,"y":103},{"r":3,"d":3,"k":"g","x":68,"y":105},{"r":3,"d":3,"k":"g","x":74,"y":102},{"r":3,"d":3,"k":"g","x":82,"y":97},{"r":3,"d":3,"k":"g","x":95,"y":85},{"r":3,"d":3,"k":"g","x":116,"y":70},{"r":3,"d":3,"k":"g","x":140,"y":55},{"r":3,"d":3,"k":"g","x":165,"y":43},{"r":3,"d":3,"k":"g","x":200,"y":31},{"r":3,"d":3,"k":"g","x":235,"y":21.6},{"r":3,"d":3,"k":"g","x":280,"y":14},{"r":3,"d":3,"k":"g","x":333,"y":8},{"r":3,"d":3,"k":"g","x":420,"y":4},{"r":3,"d":3,"k":"g","x":530,"y":2},{"r":3,"d":3,"k":"g","x":700,"y":0.8},{"r":3,"d":3,"k":"g","x":960,"y":0},{"r":3,"d":3,"k":"g","x":10000,"y":0},
{"r":3,"d":3,"k":"t","x":1,"y":0},{"r":3,"d":3,"k":"t","x":1.6,"y":0.7},{"r":3,"d":3,"k":"t","x":2.4,"y":2.7},{"r":3,"d":3,"k":"t","x":3.5,"y":10},{"r":3,"d":3,"k":"t","x":4.9,"y":21.6},{"r":3,"d":3,"k":"t","x":6.2,"y":40},{"r":3,"d":3,"k":"t","x":7.9,"y":65},{"r":3,"d":3,"k":"t","x":9.5,"y":84},{"r":3,"d":3,"k":"t","x":11.2,"y":97},{"r":3,"d":3,"k":"t","x":13.5,"y":108},{"r":3,"d":3,"k":"t","x":15.9,"y":102.5},{"r":3,"d":3,"k":"t","x":17.8,"y":88},{"r":3,"d":3,"k":"t","x":20,"y":65},{"r":3,"d":3,"k":"t","x":22.5,"y":45},{"r":3,"d":3,"k":"t","x":25,"y":27},{"r":3,"d":3,"k":"t","x":28,"y":14},{"r":3,"d":3,"k":"t","x":30.6,"y":5.4},{"r":3,"d":3,"k":"t","x":35,"y":2.5},{"r":3,"d":3,"k":"t","x":40,"y":1},{"r":3,"d":3,"k":"t","x":65,"y":0},{"r":3,"d":3,"k":"t","x":10000,"y":0},
{"r":3,"d":3,"k":"q","x":30.6,"y":127},{"r":3,"d":3,"k":"l","x":158,"y":124,"t":"61.8"},{"r":3,"d":3,"k":"z","y":150},

{"r":4,"d":0,"k":"m","x":0,"y":0},{"r":4,"d":0,"k":"m","x":167,"y":0},{"r":4,"d":0,"k":"m","x":190,"y":0.5},{"r":4,"d":0,"k":"m","x":218,"y":1.7},{"r":4,"d":0,"k":"m","x":232,"y":6},{"r":4,"d":0,"k":"m","x":244,"y":14},{"r":4,"d":0,"k":"m","x":250,"y":30},{"r":4,"d":0,"k":"m","x":256,"y":58},{"r":4,"d":0,"k":"m","x":262,"y":110},{"r":4,"d":0,"k":"m","x":269,"y":147},{"r":4,"d":0,"k":"m","x":275,"y":145},{"r":4,"d":0,"k":"m","x":282,"y":136},{"r":4,"d":0,"k":"m","x":290,"y":105},{"r":4,"d":0,"k":"m","x":300,"y":69},{"r":4,"d":0,"k":"m","x":308,"y":46},{"r":4,"d":0,"k":"m","x":315,"y":30.6},{"r":4,"d":0,"k":"m","x":322,"y":20},
{"r":4,"d":0,"k":"m","x":328,"y":14,"h":1},{"r":4,"d":0,"k":"m","x":340,"y":10,"h":1},{"r":4,"d":0,"k":"m","x":359,"y":7,"h":1},{"r":4,"d":0,"k":"m","x":378,"y":6,"h":1},{"r":4,"d":0,"k":"m","x":397,"y":5,"h":1},{"r":4,"d":0,"k":"m","x":420,"y":5,"h":1},{"r":4,"d":0,"k":"m","x":449,"y":4,"h":1},{"r":4,"d":0,"k":"m","x":470,"y":4.5,"h":1},{"r":4,"d":0,"k":"m","x":490,"y":4,"h":1},{"r":4,"d":0,"k":"m","x":510,"y":4,"h":1},{"r":4,"d":0,"k":"m","x":526,"y":4,"h":1},{"r":4,"d":0,"k":"m","x":550,"y":3.5,"h":1},{"r":4,"d":0,"k":"m","x":577,"y":3.3,"h":1},{"r":4,"d":0,"k":"m","x":597,"y":3.5,"h":1},{"r":4,"d":0,"k":"m","x":615,"y":1.7,"h":1},{"r":4,"d":0,"k":"m","x":630,"y":0.5,"h":1},{"r":4,"d":0,"k":"m","x":654,"y":0},{"r":4,"d":0,"k":"m","x":1000,"y":0},
{"r":4,"d":0,"k":"q","x":328,"y":135},{"r":4,"d":0,"k":"l","x":564,"y":132,"t":"10.5"},{"r":4,"d":0,"k":"z","y":150},
{"r":4,"d":1,"k":"m","x":0,"y":0},{"r":4,"d":1,"k":"m","x":183,"y":0},{"r":4,"d":1,"k":"m","x":208,"y":2.2},{"r":4,"d":1,"k":"m","x":218,"y":8},{"r":4,"d":1,"k":"m","x":228,"y":20},{"r":4,"d":1,"k":"m","x":237,"y":45},{"r":4,"d":1,"k":"m","x":246,"y":78},{"r":4,"d":1,"k":"m","x":253,"y":105},{"r":4,"d":1,"k":"m","x":259,"y":118},{"r":4,"d":1,"k":"m","x":265,"y":112},{"r":4,"d":1,"k":"m","x":271,"y":108},{"r":4,"d":1,"k":"m","x":277,"y":100},{"r":4,"d":1,"k":"m","x":287,"y":90},{"r":4,"d":1,"k":"m","x":297,"y":78},{"r":4,"d":1,"k":"m","x":310,"y":58},{"r":4,"d":1,"k":"m","x":322,"y":38},{"r":4,"d":1,"k":"m","x":332,"y":22},
{"r":4,"d":1,"k":"m","x":340,"y":13.3,"h":1},{"r":4,"d":1,"k":"m","x":356,"y":9,"h":1},{"r":4,"d":1,"k":"m","x":373,"y":6.7,"h":1},{"r":4,"d":1,"k":"m","x":392,"y":6.2,"h":1},{"r":4,"d":1,"k":"m","x":411,"y":5.8,"h":1},{"r":4,"d":1,"k":"m","x":440,"y":5,"h":1},{"r":4,"d":1,"k":"m","x":460,"y":4.8,"h":1},{"r":4,"d":1,"k":"m","x":487,"y":4.4,"h":1},{"r":4,"d":1,"k":"m","x":510,"y":4,"h":1},{"r":4,"d":1,"k":"m","x":540,"y":3.6,"h":1},{"r":4,"d":1,"k":"m","x":563,"y":3.1,"h":1},{"r":4,"d":1,"k":"m","x":590,"y":2.5,"h":1},{"r":4,"d":1,"k":"m","x":614,"y":1.8,"h":1},{"r":4,"d":1,"k":"m","x":640,"y":0.8,"h":1},{"r":4,"d":1,"k":"m","x":665,"y":0.4,"h":1},{"r":4,"d":1,"k":"m","x":690,"y":0},{"r":4,"d":1,"k":"m","x":716,"y":0},{"r":4,"d":1,"k":"m","x":735,"y":1.3},{"r":4,"d":1,"k":"m","x":750,"y":0},{"r":4,"d":1,"k":"m","x":1000,"y":0},
{"r":4,"d":1,"k":"q","x":340,"y":106.7},{"r":4,"d":1,"k":"l","x":533,"y":105,"t":"12.1"},{"r":4,"d":1,"k":"z","y":120},
{"r":4,"d":2,"k":"m","x":0,"y":0},{"r":4,"d":2,"k":"m","x":106,"y":0},{"r":4,"d":2,"k":"m","x":131,"y":5.6},{"r":4,"d":2,"k":"m","x":141,"y":25},{"r":4,"d":2,"k":"m","x":151,"y":72},{"r":4,"d":2,"k":"m","x":160,"y":150},{"r":4,"d":2,"k":"m","x":169,"y":217},{"r":4,"d":2,"k":"m","x":177,"y":262},{"r":4,"d":2,"k":"m","x":184,"y":278},{"r":4,"d":2,"k":"m","x":191,"y":262},{"r":4,"d":2,"k":"m","x":199,"y":239},{"r":4,"d":2,"k":"m","x":209,"y":190},{"r":4,"d":2,"k":"m","x":219,"y":139},{"r":4,"d":2,"k":"m","x":232,"y":85},{"r":4,"d":2,"k":"m","x":244,"y":44},
{"r":4,"d":2,"k":"m","x":252,"y":28,"h":1},{"r":4,"d":2,"k":"m","x":266,"y":23,"h":1},{"r":4,"d":2,"k":"m","x":282,"y":19,"h":1},{"r":4,"d":2,"k":"m","x":305,"y":15,"h":1},{"r":4,"d":2,"k":"m","x":332,"y":11,"h":1},{"r":4,"d":2,"k":"m","x":357,"y":9.5,"h":1},{"r":4,"d":2,"k":"m","x":383,"y":8,"h":1},{"r":4,"d":2,"k":"m","x":420,"y":6,"h":1},{"r":4,"d":2,"k":"m","x":458,"y":4.4,"h":1},{"r":4,"d":2,"k":"m","x":495,"y":3.3,"h":1},{"r":4,"d":2,"k":"m","x":534,"y":2.2,"h":1},{"r":4,"d":2,"k":"m","x":585,"y":1.5,"h":1},{"r":4,"d":2,"k":"m","x":635,"y":1.1,"h":1},{"r":4,"d":2,"k":"m","x":680,"y":0.4,"h":1},{"r":4,"d":2,"k":"m","x":736,"y":0},{"r":4,"d":2,"k":"m","x":1000,"y":0},
{"r":4,"d":2,"k":"q","x":252,"y":270},{"r":4,"d":2,"k":"l","x":572,"y":263,"t":"11.5"},{"r":4,"d":2,"k":"z","y":300},
{"r":4,"d":3,"k":"m","x":0,"y":0},{"r":4,"d":3,"k":"m","x":269,"y":0},{"r":4,"d":3,"k":"m","x":280,"y":2},{"r":4,"d":3,"k":"m","x":290,"y":5.6},{"r":4,"d":3,"k":"m","x":300,"y":11},{"r":4,"d":3,"k":"m","x":308,"y":15.8},{"r":4,"d":3,"k":"m","x":318,"y":22},{"r":4,"d":3,"k":"m","x":328,"y":27.5},{"r":4,"d":3,"k":"m","x":337,"y":31},{"r":4,"d":3,"k":"m","x":346,"y":34},{"r":4,"d":3,"k":"m","x":352,"y":33},{"r":4,"d":3,"k":"m","x":359,"y":32},{"r":4,"d":3,"k":"m","x":369,"y":27},{"r":4,"d":3,"k":"m","x":379,"y":21.7},{"r":4,"d":3,"k":"m","x":391,"y":15},{"r":4,"d":3,"k":"m","x":403,"y":10},{"r":4,"d":3,"k":"m","x":413,"y":7},
{"r":4,"d":3,"k":"m","x":423,"y":4.8,"h":1},{"r":4,"d":3,"k":"m","x":436,"y":3.5,"h":1},{"r":4,"d":3,"k":"m","x":449,"y":2.6,"h":1},{"r":4,"d":3,"k":"m","x":462,"y":2.2,"h":1},{"r":4,"d":3,"k":"m","x":474,"y":1.9,"h":1},{"r":4,"d":3,"k":"m","x":487,"y":2.2,"h":1},{"r":4,"d":3,"k":"m","x":500,"y":2.3,"h":1},{"r":4,"d":3,"k":"m","x":513,"y":1.6,"h":1},{"r":4,"d":3,"k":"m","x":526,"y":1.8,"h":1},{"r":4,"d":3,"k":"m","x":538,"y":2.3,"h":1},{"r":4,"d":3,"k":"m","x":551,"y":2.3,"h":1},{"r":4,"d":3,"k":"m","x":564,"y":1.6,"h":1},{"r":4,"d":3,"k":"m","x":577,"y":1.8,"h":1},{"r":4,"d":3,"k":"m","x":590,"y":2.4,"h":1},{"r":4,"d":3,"k":"m","x":603,"y":2.6,"h":1},{"r":4,"d":3,"k":"m","x":615,"y":2.3,"h":1},{"r":4,"d":3,"k":"m","x":628,"y":2.3,"h":1},{"r":4,"d":3,"k":"m","x":641,"y":1.6,"h":1},{"r":4,"d":3,"k":"m","x":654,"y":1.5,"h":1},{"r":4,"d":3,"k":"m","x":666,"y":1.3,"h":1},{"r":4,"d":3,"k":"m","x":679,"y":1.2,"h":1},{"r":4,"d":3,"k":"m","x":692,"y":1,"h":1},{"r":4,"d":3,"k":"m","x":705,"y":0.7,"h":1},{"r":4,"d":3,"k":"m","x":718,"y":0.5,"h":1},{"r":4,"d":3,"k":"m","x":731,"y":0.3,"h":1},{"r":4,"d":3,"k":"m","x":750,"y":0},{"r":4,"d":3,"k":"m","x":1000,"y":0},
{"r":4,"d":3,"k":"q","x":423,"y":35.6},{"r":4,"d":3,"k":"l","x":544,"y":35.6,"t":"14.3"},{"r":4,"d":3,"k":"z","y":40},

{"r":5,"d":0,"k":"m","x":0,"y":0},{"r":5,"d":0,"k":"m","x":154,"y":0},{"r":5,"d":0,"k":"m","x":160,"y":0.6},{"r":5,"d":0,"k":"m","x":167,"y":0.7},{"r":5,"d":0,"k":"m","x":175,"y":0},{"r":5,"d":0,"k":"m","x":187,"y":0},{"r":5,"d":0,"k":"m","x":196,"y":0.8},{"r":5,"d":0,"k":"m","x":205,"y":1.1},{"r":5,"d":0,"k":"m","x":214,"y":2},{"r":5,"d":0,"k":"m","x":223,"y":3},{"r":5,"d":0,"k":"m","x":233,"y":4.5},{"r":5,"d":0,"k":"m","x":244,"y":6.3},{"r":5,"d":0,"k":"m","x":253,"y":9},{"r":5,"d":0,"k":"m","x":262,"y":11.5},{"r":5,"d":0,"k":"m","x":268,"y":9},{"r":5,"d":0,"k":"m","x":274,"y":6.3},{"r":5,"d":0,"k":"m","x":282,"y":4.5},{"r":5,"d":0,"k":"m","x":290,"y":3.3},{"r":5,"d":0,"k":"m","x":299,"y":2},{"r":5,"d":0,"k":"m","x":308,"y":1.1},{"r":5,"d":0,"k":"m","x":316,"y":1.8},{"r":5,"d":0,"k":"m","x":321,"y":2.2},
{"r":5,"d":0,"k":"m","x":328,"y":1.5,"h":1},{"r":5,"d":0,"k":"m","x":337,"y":1.1,"h":1},{"r":5,"d":0,"k":"m","x":346,"y":1.8,"h":1},{"r":5,"d":0,"k":"m","x":355,"y":1.1,"h":1},{"r":5,"d":0,"k":"m","x":364,"y":1.9,"h":1},{"r":5,"d":0,"k":"m","x":372,"y":1.3,"h":1},{"r":5,"d":0,"k":"m","x":384,"y":1.9,"h":1},{"r":5,"d":0,"k":"m","x":397,"y":1.5,"h":1},{"r":5,"d":0,"k":"m","x":410,"y":1.1,"h":1},{"r":5,"d":0,"k":"m","x":423,"y":1.1,"h":1},{"r":5,"d":0,"k":"m","x":436,"y":1.9,"h":1},{"r":5,"d":0,"k":"m","x":449,"y":1.9,"h":1},{"r":5,"d":0,"k":"m","x":462,"y":1.2,"h":1},{"r":5,"d":0,"k":"m","x":474,"y":1.5,"h":1},{"r":5,"d":0,"k":"m","x":487,"y":2.2,"h":1},{"r":5,"d":0,"k":"m","x":500,"y":2,"h":1},{"r":5,"d":0,"k":"m","x":513,"y":1.5,"h":1},{"r":5,"d":0,"k":"m","x":526,"y":1.9,"h":1},{"r":5,"d":0,"k":"m","x":538,"y":1.3,"h":1},{"r":5,"d":0,"k":"m","x":551,"y":2.2,"h":1},{"r":5,"d":0,"k":"m","x":564,"y":3,"h":1},{"r":5,"d":0,"k":"m","x":570,"y":1.8,"h":1},{"r":5,"d":0,"k":"m","x":577,"y":1.5,"h":1},{"r":5,"d":0,"k":"m","x":590,"y":0.8,"h":1},{"r":5,"d":0,"k":"m","x":603,"y":1.9,"h":1},{"r":5,"d":0,"k":"m","x":609,"y":1,"h":1},{"r":5,"d":0,"k":"m","x":615,"y":0.4,"h":1},{"r":5,"d":0,"k":"m","x":628,"y":0},{"r":5,"d":0,"k":"m","x":670,"y":0},{"r":5,"d":0,"k":"m","x":680,"y":0.7},{"r":5,"d":0,"k":"m","x":692,"y":0},{"r":5,"d":0,"k":"m","x":1000,"y":0},
{"r":5,"d":0,"k":"q","x":328,"y":17.6},{"r":5,"d":0,"k":"l","x":564,"y":17.4,"t":"25.4"},{"r":5,"d":0,"k":"z","y":20},
{"r":5,"d":1,"k":"m","x":0,"y":0},{"r":5,"d":1,"k":"m","x":183,"y":0},{"r":5,"d":1,"k":"m","x":208,"y":1.3},{"r":5,"d":1,"k":"m","x":218,"y":4},{"r":5,"d":1,"k":"m","x":228,"y":9},{"r":5,"d":1,"k":"m","x":237,"y":20},{"r":5,"d":1,"k":"m","x":246,"y":37.6},{"r":5,"d":1,"k":"m","x":253,"y":52},{"r":5,"d":1,"k":"m","x":259,"y":62},{"r":5,"d":1,"k":"m","x":265,"y":55},{"r":5,"d":1,"k":"m","x":271,"y":50},{"r":5,"d":1,"k":"m","x":277,"y":48},{"r":5,"d":1,"k":"m","x":287,"y":35},{"r":5,"d":1,"k":"m","x":297,"y":22},{"r":5,"d":1,"k":"m","x":310,"y":15},{"r":5,"d":1,"k":"m","x":322,"y":11.7},{"r":5,"d":1,"k":"m","x":332,"y":9},
{"r":5,"d":1,"k":"m","x":340,"y":7.8,"h":1},{"r":5,"d":1,"k":"m","x":356,"y":6.2,"h":1},{"r":5,"d":1,"k":"m","x":373,"y":5.2,"h":1},{"r":5,"d":1,"k":"m","x":392,"y":4.5,"h":1},{"r":5,"d":1,"k":"m","x":411,"y":3.9,"h":1},{"r":5,"d":1,"k":"m","x":436,"y":3.6,"h":1},{"r":5,"d":1,"k":"m","x":462,"y":3.4,"h":1},{"r":5,"d":1,"k":"m","x":487,"y":3.6,"h":1},{"r":5,"d":1,"k":"m","x":513,"y":3.9,"h":1},{"r":5,"d":1,"k":"m","x":538,"y":2.6,"h":1},{"r":5,"d":1,"k":"m","x":563,"y":4.4,"h":1},{"r":5,"d":1,"k":"m","x":582,"y":2.5,"h":1},{"r":5,"d":1,"k":"m","x":601,"y":1.3,"h":1},{"r":5,"d":1,"k":"m","x":614,"y":0.5,"h":1},{"r":5,"d":1,"k":"m","x":627,"y":0},{"r":5,"d":1,"k":"m","x":660,"y":0},{"r":5,"d":1,"k":"m","x":678,"y":1.3},{"r":5,"d":1,"k":"m","x":690,"y":0},{"r":5,"d":1,"k":"m","x":1000,"y":0},
{"r":5,"d":1,"k":"q","x":340,"y":62},{"r":5,"d":1,"k":"l","x":543,"y":61,"t":"12.8"},{"r":5,"d":1,"k":"z","y":70},
{"r":5,"d":2,"k":"m","x":0,"y":0},{"r":5,"d":2,"k":"m","x":106,"y":0},{"r":5,"d":2,"k":"m","x":131,"y":4},{"r":5,"d":2,"k":"m","x":141,"y":18},{"r":5,"d":2,"k":"m","x":151,"y":52},{"r":5,"d":2,"k":"m","x":160,"y":95},{"r":5,"d":2,"k":"m","x":169,"y":132},{"r":5,"d":2,"k":"m","x":175,"y":170},{"r":5,"d":2,"k":"m","x":181,"y":200},{"r":5,"d":2,"k":"m","x":188,"y":185},{"r":5,"d":2,"k":"m","x":199,"y":164},{"r":5,"d":2,"k":"m","x":209,"y":130},{"r":5,"d":2,"k":"m","x":219,"y":100},{"r":5,"d":2,"k":"m","x":232,"y":62},
{"r":5,"d":2,"k":"m","x":244,"y":32,"h":1},{"r":5,"d":2,"k":"m","x":262,"y":25,"h":1},{"r":5,"d":2,"k":"m","x":282,"y":20,"h":1},{"r":5,"d":2,"k":"m","x":307,"y":18,"h":1},{"r":5,"d":2,"k":"m","x":332,"y":16,"h":1},{"r":5,"d":2,"k":"m","x":357,"y":15,"h":1},{"r":5,"d":2,"k":"m","x":383,"y":13.6,"h":1},{"r":5,"d":2,"k":"m","x":408,"y":11.5,"h":1},{"r":5,"d":2,"k":"m","x":433,"y":9.6,"h":1},{"r":5,"d":2,"k":"m","x":458,"y":8,"h":1},{"r":5,"d":2,"k":"m","x":484,"y":6.4,"h":1},{"r":5,"d":2,"k":"m","x":509,"y":5,"h":1},{"r":5,"d":2,"k":"m","x":534,"y":4,"h":1},{"r":5,"d":2,"k":"m","x":559,"y":2.8,"h":1},{"r":5,"d":2,"k":"m","x":584,"y":1.6,"h":1},{"r":5,"d":2,"k":"m","x":610,"y":0.8,"h":1},{"r":5,"d":2,"k":"m","x":635,"y":0},{"r":5,"d":2,"k":"m","x":1000,"y":0},
{"r":5,"d":2,"k":"q","x":244,"y":192},{"r":5,"d":2,"k":"l","x":559,"y":188,"t":"20.3"},{"r":5,"d":2,"k":"z","y":215},
{"r":5,"d":3,"k":"m","x":0,"y":0},{"r":5,"d":3,"k":"m","x":231,"y":0},{"r":5,"d":3,"k":"m","x":250,"y":2},{"r":5,"d":3,"k":"m","x":269,"y":8},{"r":5,"d":3,"k":"m","x":282,"y":22},{"r":5,"d":3,"k":"m","x":295,"y":50},{"r":5,"d":3,"k":"m","x":304,"y":100},{"r":5,"d":3,"k":"m","x":313,"y":175},{"r":5,"d":3,"k":"m","x":320,"y":270},{"r":5,"d":3,"k":"m","x":328,"y":375},{"r":5,"d":3,"k":"m","x":335,"y":410},{"r":5,"d":3,"k":"m","x":341,"y":425},{"r":5,"d":3,"k":"m","x":347,"y":400},{"r":5,"d":3,"k":"m","x":354,"y":358},{"r":5,"d":3,"k":"m","x":363,"y":260},{"r":5,"d":3,"k":"m","x":372,"y":142},{"r":5,"d":3,"k":"m","x":384,"y":70},{"r":5,"d":3,"k":"m","x":397,"y":33},{"r":5,"d":3,"k":"m","x":408,"y":27},
{"r":5,"d":3,"k":"m","x":418,"y":25,"h":1},{"r":5,"d":3,"k":"m","x":440,"y":23,"h":1},{"r":5,"d":3,"k":"m","x":462,"y":22,"h":1},{"r":5,"d":3,"k":"m","x":500,"y":20,"h":1},{"r":5,"d":3,"k":"m","x":538,"y":18,"h":1},{"r":5,"d":3,"k":"m","x":577,"y":16.5,"h":1},{"r":5,"d":3,"k":"m","x":615,"y":15,"h":1},{"r":5,"d":3,"k":"m","x":654,"y":13.5,"h":1},{"r":5,"d":3,"k":"m","x":692,"y":12,"h":1},{"r":5,"d":3,"k":"m","x":730,"y":10,"h":1},{"r":5,"d":3,"k":"m","x":769,"y":8,"h":1},{"r":5,"d":3,"k":"m","x":808,"y":6.5,"h":1},{"r":5,"d":3,"k":"m","x":846,"y":5,"h":1},{"r":5,"d":3,"k":"m","x":900,"y":3.5,"h":1},{"r":5,"d":3,"k":"m","x":949,"y":2,"h":1},{"r":5,"d":3,"k":"m","x":1000,"y":0},
{"r":5,"d":3,"k":"q","x":418,"y":395},{"r":5,"d":3,"k":"l","x":641,"y":392,"t":"16.8"},{"r":5,"d":3,"k":"z","y":450}
]},
"spacing":2,
"hconcat":[
{"width":95,"height":611,"view":{"stroke":null},
 "title":{"text":"anti CD3 (15μg)","anchor":"start","frame":"group","fontSize":12,"fontWeight":"normal","color":"black","offset":39},
 "data":{"values":[
  {"k":"r","x":53,"y":39,"t":"Total cells"},
  {"k":"r","x":53,"y":177,"t":"CD25/44 pos"},
  {"k":"r","x":53,"y":287,"t":"CD25/44 neg"},
  {"k":"r","x":53,"y":422,"t":"CD25/44 pos"},
  {"k":"r","x":53,"y":535,"t":"CD25/44 neg"},
  {"k":"s","x":82,"y":11,"y2":448},
  {"k":"s","x":82,"y":580,"y2":590},
  {"k":"p","x":82,"y":5},
  {"k":"c","x":82,"y":515,"t":"rel. cell number"}
 ]},
 "encoding":{"x":{"field":"x","type":"quantitative","scale":{"domain":[0,95]},"axis":null},"y":{"field":"y","type":"quantitative","scale":{"domain":[0,611],"reverse":true},"axis":null}},
 "layer":[
  {"transform":[{"filter":"datum.k=='r'"}],"mark":{"type":"text","align":"center","baseline":"middle","angle":270,"fontSize":14,"fontWeight":"bold","color":"black"},"encoding":{"text":{"field":"t"}}},
  {"transform":[{"filter":"datum.k=='c'"}],"mark":{"type":"text","align":"center","baseline":"middle","angle":270,"fontSize":15,"fontWeight":"bold","color":"black"},"encoding":{"text":{"field":"t"}}},
  {"transform":[{"filter":"datum.k=='s'"}],"mark":{"type":"rule","color":"black","strokeWidth":2.5},"encoding":{"y2":{"field":"y2"}}},
  {"transform":[{"filter":"datum.k=='p'"}],"mark":{"type":"point","shape":"triangle-up","filled":true,"color":"black","size":110,"opacity":1}}
 ]
},
{"spacing":0,"vconcat":[
 {"data":{"name":"h"},"transform":[{"filter":"datum.r==1"}],
  "facet":{"column":{"field":"d","type":"ordinal","header":{"title":null,"labelExpr":"['day ' + datum.value, datum.value==0 ? '1.0 x 10⁶' : datum.value==1 ? '0.8 x 10⁶' : datum.value==2 ? '3.1 x 10⁶' : '2.4 x 10⁶']","labelFontSize":14,"labelFontWeight":"bold","labelFont":"Liberation Sans","labelColor":"black","labelLineHeight":30,"labelPadding":11}}},
  "spacing":{"column":26.5},
  "resolve":{"scale":{"y":"independent"}},
  "spec":{"width":132,"height":91,"layer":[
   {"transform":[{"filter":"datum.k=='m' && datum.h==1"}],
    "mark":{"type":"area","stroke":null,"fill":{"gradient":"linear","x1":0,"y1":1,"x2":1,"y2":0,"stops":[
     {"offset":0,"color":"white"},{"offset":0.0333,"color":"white"},{"offset":0.0333,"color":"black"},{"offset":0.0556,"color":"black"},
     {"offset":0.0556,"color":"white"},{"offset":0.0889,"color":"white"},{"offset":0.0889,"color":"black"},{"offset":0.1111,"color":"black"},
     {"offset":0.1111,"color":"white"},{"offset":0.1444,"color":"white"},{"offset":0.1444,"color":"black"},{"offset":0.1667,"color":"black"},
     {"offset":0.1667,"color":"white"},{"offset":0.2,"color":"white"},{"offset":0.2,"color":"black"},{"offset":0.2222,"color":"black"},
     {"offset":0.2222,"color":"white"},{"offset":0.2556,"color":"white"},{"offset":0.2556,"color":"black"},{"offset":0.2778,"color":"black"},
     {"offset":0.2778,"color":"white"},{"offset":0.3111,"color":"white"},{"offset":0.3111,"color":"black"},{"offset":0.3333,"color":"black"},
     {"offset":0.3333,"color":"white"},{"offset":0.3667,"color":"white"},{"offset":0.3667,"color":"black"},{"offset":0.3889,"color":"black"},
     {"offset":0.3889,"color":"white"},{"offset":0.4222,"color":"white"},{"offset":0.4222,"color":"black"},{"offset":0.4444,"color":"black"},
     {"offset":0.4444,"color":"white"},{"offset":0.4778,"color":"white"},{"offset":0.4778,"color":"black"},{"offset":0.5,"color":"black"},
     {"offset":0.5,"color":"white"},{"offset":0.5333,"color":"white"},{"offset":0.5333,"color":"black"},{"offset":0.5556,"color":"black"},
     {"offset":0.5556,"color":"white"},{"offset":0.5889,"color":"white"},{"offset":0.5889,"color":"black"},{"offset":0.6111,"color":"black"},
     {"offset":0.6111,"color":"white"},{"offset":0.6444,"color":"white"},{"offset":0.6444,"color":"black"},{"offset":0.6667,"color":"black"},
     {"offset":0.6667,"color":"white"},{"offset":0.7,"color":"white"},{"offset":0.7,"color":"black"},{"offset":0.7222,"color":"black"},
     {"offset":0.7222,"color":"white"},{"offset":0.7556,"color":"white"},{"offset":0.7556,"color":"black"},{"offset":0.7778,"color":"black"},
     {"offset":0.7778,"color":"white"},{"offset":0.8111,"color":"white"},{"offset":0.8111,"color":"black"},{"offset":0.8333,"color":"black"},
     {"offset":0.8333,"color":"white"},{"offset":0.8667,"color":"white"},{"offset":0.8667,"color":"black"},{"offset":0.8889,"color":"black"},
     {"offset":0.8889,"color":"white"},{"offset":0.9222,"color":"white"},{"offset":0.9222,"color":"black"},{"offset":0.9444,"color":"black"},
     {"offset":0.9444,"color":"white"},{"offset":0.9778,"color":"white"},{"offset":0.9778,"color":"black"},{"offset":1,"color":"black"}]}},
    "encoding":{"x":{"field":"x","type":"quantitative","scale":{"type":"log","domain":[1,10000]},"axis":{"title":null,"values":[1,2,3,4,5,6,7,8,9,10,20,30,40,50,60,70,80,90,100,200,300,400,500,600,700,800,900,1000,2000,3000,4000,5000,6000,7000,8000,9000,10000],"labelExpr":"datum.value==1?'10⁰':datum.value==10?'10¹':datum.value==100?'10²':datum.value==1000?'10³':datum.value==10000?'10⁴':''","labelOverlap":false,"labelFlush":false}},
     "y":{"field":"y","type":"quantitative","stack":null,"scale":{"nice":false,"zero":true},"axis":{"title":null,"tickCount":7,"labelAngle":-90,"labelFontSize":5,"labelOverlap":false}}}},
   {"transform":[{"filter":"datum.k=='m'"}],"mark":{"type":"line","color":"black","strokeWidth":0.8},"encoding":{"x":{"field":"x","type":"quantitative"},"y":{"field":"y","type":"quantitative"}}},
   {"transform":[{"filter":"datum.k=='q'"}],"mark":{"type":"rule","color":"black","strokeWidth":1},"encoding":{"x":{"field":"x","type":"quantitative"},"y":{"field":"y","type":"quantitative"},"y2":{"datum":0}}},
   {"transform":[{"filter":"datum.k=='l'"}],"mark":{"type":"text","align":"left","baseline":"middle","fontSize":13,"color":"black"},"encoding":{"x":{"field":"x","type":"quantitative"},"y":{"field":"y","type":"quantitative"},"text":{"field":"t"}}},
   {"transform":[{"filter":"datum.k=='z'"}],"mark":{"type":"point","opacity":0,"size":0},"encoding":{"y":{"field":"y","type":"quantitative"}}}
  ]}
 },
 {"width":636,"height":23,"view":{"stroke":null},
  "data":{"values":[{"k":"s","x":-0.0094,"x2":0.0031,"y":0},{"k":"s","x":0.151,"x2":0.985,"y":0},{"k":"p","x":0.994,"y":0},{"k":"t","x":0.0079,"y":0,"t":"CD25/CD44"}]},
  "encoding":{"x":{"field":"x","type":"quantitative","scale":{"domain":[0,1]},"axis":null},"y":{"field":"y","type":"quantitative","scale":{"domain":[-2.29,1]},"axis":null}},
  "layer":[
   {"transform":[{"filter":"datum.k=='s'"}],"mark":{"type":"rule","color":"black","strokeWidth":3},"encoding":{"x2":{"field":"x2"}}},
   {"transform":[{"filter":"datum.k=='p'"}],"mark":{"type":"point","shape":"triangle-right","filled":true,"color":"black","size":140,"opacity":1}},
   {"transform":[{"filter":"datum.k=='t'"}],"mark":{"type":"text","align":"left","baseline":"middle","fontSize":16,"fontWeight":"bold","color":"black"},"encoding":{"text":{"field":"t"}}}
  ]},
 {"spacing":1,"vconcat":[
  {"data":{"name":"h"},"transform":[{"filter":"datum.r==2"}],
   "facet":{"column":{"field":"d","type":"ordinal","header":null}},
   "spacing":{"column":26.5},
   "resolve":{"scale":{"y":"independent"}},
   "spec":{"width":132,"height":91,"layer":[
    {"transform":[{"filter":"datum.k=='g'"}],"mark":{"type":"area","fill":"#d9d9d9","stroke":null},
     "encoding":{"x":{"field":"x","type":"quantitative","scale":{"type":"log","domain":[1,10000]},"axis":{"title":null,"values":[1,2,3,4,5,6,7,8,9,10,20,30,40,50,60,70,80,90,100,200,300,400,500,600,700,800,900,1000,2000,3000,4000,5000,6000,7000,8000,9000,10000],"labelExpr":"datum.value==1?'10⁰':datum.value==10?'10¹':datum.value==100?'10²':datum.value==1000?'10³':datum.value==10000?'10⁴':''","labelOverlap":false,"labelFlush":false}},
      "y":{"field":"y","type":"quantitative","stack":null,"scale":{"nice":false,"zero":true},"axis":{"title":null,"tickCount":7,"labelAngle":-90,"labelFontSize":5,"labelOverlap":false}}}},
    {"transform":[{"filter":"datum.k=='g'"}],"mark":{"type":"line","color":"black","strokeWidth":0.8},"encoding":{"x":{"field":"x","type":"quantitative"},"y":{"field":"y","type":"quantitative"}}},
    {"transform":[{"filter":"datum.k=='t'"}],"mark":{"type":"line","color":"black","strokeWidth":2},"encoding":{"x":{"field":"x","type":"quantitative"},"y":{"field":"y","type":"quantitative"}}},
    {"transform":[{"filter":"datum.k=='q'"}],"mark":{"type":"rule","color":"black","strokeWidth":1},"encoding":{"x":{"field":"x","type":"quantitative"},"y":{"field":"y","type":"quantitative"},"y2":{"datum":0}}},
    {"transform":[{"filter":"datum.k=='l'"}],"mark":{"type":"text","align":"left","baseline":"middle","fontSize":13,"color":"black"},"encoding":{"x":{"field":"x","type":"quantitative"},"y":{"field":"y","type":"quantitative"},"text":{"field":"t"}}},
    {"transform":[{"filter":"datum.k=='z'"}],"mark":{"type":"point","opacity":0,"size":0},"encoding":{"y":{"field":"y","type":"quantitative"}}}
   ]}
  },
  {"data":{"name":"h"},"transform":[{"filter":"datum.r==3"}],
   "facet":{"column":{"field":"d","type":"ordinal","header":null}},
   "spacing":{"column":26.5},
   "resolve":{"scale":{"y":"independent"}},
   "spec":{"width":132,"height":91,"layer":[
    {"transform":[{"filter":"datum.k=='g'"}],"mark":{"type":"area","fill":"#d9d9d9","stroke":null},
     "encoding":{"x":{"field":"x","type":"quantitative","scale":{"type":"log","domain":[1,10000]},"axis":{"title":null,"values":[1,2,3,4,5,6,7,8,9,10,20,30,40,50,60,70,80,90,100,200,300,400,500,600,700,800,900,1000,2000,3000,4000,5000,6000,7000,8000,9000,10000],"labelExpr":"datum.value==1?'10⁰':datum.value==10?'10¹':datum.value==100?'10²':datum.value==1000?'10³':datum.value==10000?'10⁴':''","labelOverlap":false,"labelFlush":false}},
      "y":{"field":"y","type":"quantitative","stack":null,"scale":{"nice":false,"zero":true},"axis":{"title":null,"tickCount":7,"labelAngle":-90,"labelFontSize":5,"labelOverlap":false}}}},
    {"transform":[{"filter":"datum.k=='g'"}],"mark":{"type":"line","color":"black","strokeWidth":0.8},"encoding":{"x":{"field":"x","type":"quantitative"},"y":{"field":"y","type":"quantitative"}}},
    {"transform":[{"filter":"datum.k=='t'"}],"mark":{"type":"line","color":"black","strokeWidth":2},"encoding":{"x":{"field":"x","type":"quantitative"},"y":{"field":"y","type":"quantitative"}}},
    {"transform":[{"filter":"datum.k=='q'"}],"mark":{"type":"rule","color":"black","strokeWidth":1},"encoding":{"x":{"field":"x","type":"quantitative"},"y":{"field":"y","type":"quantitative"},"y2":{"datum":0}}},
    {"transform":[{"filter":"datum.k=='l'"}],"mark":{"type":"text","align":"left","baseline":"middle","fontSize":13,"color":"black"},"encoding":{"x":{"field":"x","type":"quantitative"},"y":{"field":"y","type":"quantitative"},"text":{"field":"t"}}},
    {"transform":[{"filter":"datum.k=='z'"}],"mark":{"type":"point","opacity":0,"size":0},"encoding":{"y":{"field":"y","type":"quantitative"}}}
   ]}
  }
 ]},
 {"width":636,"height":26,"view":{"stroke":null},
  "data":{"values":[{"k":"s","x":-0.0094,"x2":0.0031,"y":0},{"k":"s","x":0.132,"x2":0.985,"y":0},{"k":"p","x":0.994,"y":0},{"k":"t","x":0.0079,"y":0,"t":"TCR β IC"}]},
  "encoding":{"x":{"field":"x","type":"quantitative","scale":{"domain":[0,1]},"axis":null},"y":{"field":"y","type":"quantitative","scale":{"domain":[-1.6,1]},"axis":null}},
  "layer":[
   {"transform":[{"filter":"datum.k=='s'"}],"mark":{"type":"rule","color":"black","strokeWidth":3},"encoding":{"x2":{"field":"x2"}}},
   {"transform":[{"filter":"datum.k=='p'"}],"mark":{"type":"point","shape":"triangle-right","filled":true,"color":"black","size":140,"opacity":1}},
   {"transform":[{"filter":"datum.k=='t'"}],"mark":{"type":"text","align":"left","baseline":"middle","fontSize":16,"fontWeight":"bold","color":"black"},"encoding":{"text":{"field":"t"}}}
  ]},
 {"spacing":8,"vconcat":[
  {"data":{"name":"h"},"transform":[{"filter":"datum.r==4"}],
   "facet":{"column":{"field":"d","type":"ordinal","header":null}},
   "spacing":{"column":26.5},
   "resolve":{"scale":{"y":"independent"}},
   "spec":{"width":132,"height":90,"layer":[
    {"transform":[{"filter":"datum.k=='m' && datum.h==1"}],
     "mark":{"type":"area","stroke":null,"fill":{"gradient":"linear","x1":0,"y1":0,"x2":1,"y2":0,"stops":[
      {"offset":0,"color":"white"},{"offset":0.05,"color":"white"},{"offset":0.05,"color":"black"},{"offset":0.0714,"color":"black"},
      {"offset":0.0714,"color":"white"},{"offset":0.1214,"color":"white"},{"offset":0.1214,"color":"black"},{"offset":0.1429,"color":"black"},
      {"offset":0.1429,"color":"white"},{"offset":0.1929,"color":"white"},{"offset":0.1929,"color":"black"},{"offset":0.2143,"color":"black"},
      {"offset":0.2143,"color":"white"},{"offset":0.2643,"color":"white"},{"offset":0.2643,"color":"black"},{"offset":0.2857,"color":"black"},
      {"offset":0.2857,"color":"white"},{"offset":0.3357,"color":"white"},{"offset":0.3357,"color":"black"},{"offset":0.3571,"color":"black"},
      {"offset":0.3571,"color":"white"},{"offset":0.4071,"color":"white"},{"offset":0.4071,"color":"black"},{"offset":0.4286,"color":"black"},
      {"offset":0.4286,"color":"white"},{"offset":0.4786,"color":"white"},{"offset":0.4786,"color":"black"},{"offset":0.5,"color":"black"},
      {"offset":0.5,"color":"white"},{"offset":0.55,"color":"white"},{"offset":0.55,"color":"black"},{"offset":0.5714,"color":"black"},
      {"offset":0.5714,"color":"white"},{"offset":0.6214,"color":"white"},{"offset":0.6214,"color":"black"},{"offset":0.6429,"color":"black"},
      {"offset":0.6429,"color":"white"},{"offset":0.6929,"color":"white"},{"offset":0.6929,"color":"black"},{"offset":0.7143,"color":"black"},
      {"offset":0.7143,"color":"white"},{"offset":0.7643,"color":"white"},{"offset":0.7643,"color":"black"},{"offset":0.7857,"color":"black"},
      {"offset":0.7857,"color":"white"},{"offset":0.8357,"color":"white"},{"offset":0.8357,"color":"black"},{"offset":0.8571,"color":"black"},
      {"offset":0.8571,"color":"white"},{"offset":0.9071,"color":"white"},{"offset":0.9071,"color":"black"},{"offset":0.9286,"color":"black"},
      {"offset":0.9286,"color":"white"},{"offset":0.9786,"color":"white"},{"offset":0.9786,"color":"black"},{"offset":1,"color":"black"}]}},
     "encoding":{"x":{"field":"x","type":"quantitative","scale":{"domain":[0,1000],"nice":false},"axis":{"title":null,"values":[0,200,400,600,800,1000],"format":"d","labelOverlap":false,"labelFlush":false,"labelFontSize":5}},
      "y":{"field":"y","type":"quantitative","stack":null,"scale":{"nice":false,"zero":true},"axis":{"title":null,"tickCount":6,"labelAngle":-90,"labelFontSize":5,"labelOverlap":false}}}},
    {"transform":[{"filter":"datum.k=='m'"}],"mark":{"type":"line","color":"black","strokeWidth":0.8},"encoding":{"x":{"field":"x","type":"quantitative"},"y":{"field":"y","type":"quantitative"}}},
    {"transform":[{"filter":"datum.k=='q'"}],"mark":{"type":"rule","color":"black","strokeWidth":1},"encoding":{"x":{"field":"x","type":"quantitative"},"y":{"field":"y","type":"quantitative"},"y2":{"datum":0}}},
    {"transform":[{"filter":"datum.k=='l'"}],"mark":{"type":"text","align":"left","baseline":"middle","fontSize":13,"color":"black"},"encoding":{"x":{"field":"x","type":"quantitative"},"y":{"field":"y","type":"quantitative"},"text":{"field":"t"}}},
    {"transform":[{"filter":"datum.k=='z'"}],"mark":{"type":"point","opacity":0,"size":0},"encoding":{"y":{"field":"y","type":"quantitative"}}}
   ]}
  },
  {"data":{"name":"h"},"transform":[{"filter":"datum.r==5"}],
   "facet":{"column":{"field":"d","type":"ordinal","header":null}},
   "spacing":{"column":26.5},
   "resolve":{"scale":{"y":"independent"}},
   "spec":{"width":132,"height":90,"layer":[
    {"transform":[{"filter":"datum.k=='m' && datum.h==1"}],
     "mark":{"type":"area","stroke":null,"fill":{"gradient":"linear","x1":0,"y1":0,"x2":1,"y2":0,"stops":[
      {"offset":0,"color":"white"},{"offset":0.05,"color":"white"},{"offset":0.05,"color":"black"},{"offset":0.0714,"color":"black"},
      {"offset":0.0714,"color":"white"},{"offset":0.1214,"color":"white"},{"offset":0.1214,"color":"black"},{"offset":0.1429,"color":"black"},
      {"offset":0.1429,"color":"white"},{"offset":0.1929,"color":"white"},{"offset":0.1929,"color":"black"},{"offset":0.2143,"color":"black"},
      {"offset":0.2143,"color":"white"},{"offset":0.2643,"color":"white"},{"offset":0.2643,"color":"black"},{"offset":0.2857,"color":"black"},
      {"offset":0.2857,"color":"white"},{"offset":0.3357,"color":"white"},{"offset":0.3357,"color":"black"},{"offset":0.3571,"color":"black"},
      {"offset":0.3571,"color":"white"},{"offset":0.4071,"color":"white"},{"offset":0.4071,"color":"black"},{"offset":0.4286,"color":"black"},
      {"offset":0.4286,"color":"white"},{"offset":0.4786,"color":"white"},{"offset":0.4786,"color":"black"},{"offset":0.5,"color":"black"},
      {"offset":0.5,"color":"white"},{"offset":0.55,"color":"white"},{"offset":0.55,"color":"black"},{"offset":0.5714,"color":"black"},
      {"offset":0.5714,"color":"white"},{"offset":0.6214,"color":"white"},{"offset":0.6214,"color":"black"},{"offset":0.6429,"color":"black"},
      {"offset":0.6429,"color":"white"},{"offset":0.6929,"color":"white"},{"offset":0.6929,"color":"black"},{"offset":0.7143,"color":"black"},
      {"offset":0.7143,"color":"white"},{"offset":0.7643,"color":"white"},{"offset":0.7643,"color":"black"},{"offset":0.7857,"color":"black"},
      {"offset":0.7857,"color":"white"},{"offset":0.8357,"color":"white"},{"offset":0.8357,"color":"black"},{"offset":0.8571,"color":"black"},
      {"offset":0.8571,"color":"white"},{"offset":0.9071,"color":"white"},{"offset":0.9071,"color":"black"},{"offset":0.9286,"color":"black"},
      {"offset":0.9286,"color":"white"},{"offset":0.9786,"color":"white"},{"offset":0.9786,"color":"black"},{"offset":1,"color":"black"}]}},
     "encoding":{"x":{"field":"x","type":"quantitative","scale":{"domain":[0,1000],"nice":false},"axis":{"title":null,"values":[0,200,400,600,800,1000],"format":"d","labelOverlap":false,"labelFlush":false,"labelFontSize":5}},
      "y":{"field":"y","type":"quantitative","stack":null,"scale":{"nice":false,"zero":true},"axis":{"title":null,"tickCount":6,"labelAngle":-90,"labelFontSize":5,"labelOverlap":false}}}},
    {"transform":[{"filter":"datum.k=='m'"}],"mark":{"type":"line","color":"black","strokeWidth":0.8},"encoding":{"x":{"field":"x","type":"quantitative"},"y":{"field":"y","type":"quantitative"}}},
    {"transform":[{"filter":"datum.k=='q'"}],"mark":{"type":"rule","color":"black","strokeWidth":1},"encoding":{"x":{"field":"x","type":"quantitative"},"y":{"field":"y","type":"quantitative"},"y2":{"datum":0}}},
    {"transform":[{"filter":"datum.k=='l'"}],"mark":{"type":"text","align":"left","baseline":"middle","fontSize":13,"color":"black"},"encoding":{"x":{"field":"x","type":"quantitative"},"y":{"field":"y","type":"quantitative"},"text":{"field":"t"}}},
    {"transform":[{"filter":"datum.k=='z'"}],"mark":{"type":"point","opacity":0,"size":0},"encoding":{"y":{"field":"y","type":"quantitative"}}}
   ]}
  }
 ]},
 {"width":636,"height":20,"view":{"stroke":null},
  "data":{"values":[{"k":"s","x":-0.0094,"x2":0.0031,"y":0},{"k":"s","x":0.0865,"x2":0.985,"y":0},{"k":"p","x":0.994,"y":0},{"k":"t","x":0.0079,"y":0,"t":"7AAD"}]},
  "encoding":{"x":{"field":"x","type":"quantitative","scale":{"domain":[0,1]},"axis":null},"y":{"field":"y","type":"quantitative","scale":{"domain":[-0.818,1]},"axis":null}},
  "layer":[
   {"transform":[{"filter":"datum.k=='s'"}],"mark":{"type":"rule","color":"black","strokeWidth":3},"encoding":{"x2":{"field":"x2"}}},
   {"transform":[{"filter":"datum.k=='p'"}],"mark":{"type":"point","shape":"triangle-right","filled":true,"color":"black","size":140,"opacity":1}},
   {"transform":[{"filter":"datum.k=='t'"}],"mark":{"type":"text","align":"left","baseline":"middle","fontSize":16,"fontWeight":"bold","color":"black"},"encoding":{"text":{"field":"t"}}}
  ]}
]}
]
}
